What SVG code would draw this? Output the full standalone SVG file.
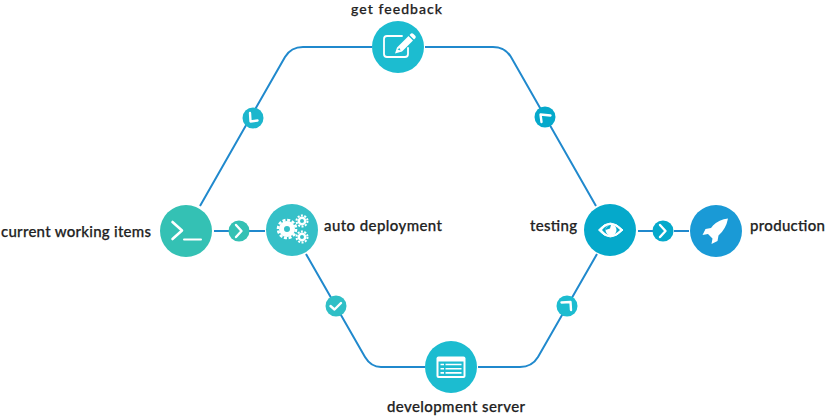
<svg xmlns="http://www.w3.org/2000/svg" width="826" height="416" viewBox="0 0 826 416">
<style>
.c{fill:none;stroke:#2089cd;stroke-width:2}
.i{fill:none;stroke:#fff;stroke-width:2.4;stroke-linecap:round;stroke-linejoin:round}
.f{fill:#fff}
text{font-family:"Lato","Open Sans",sans-serif;font-size:15px;font-weight:500;fill:#222;stroke:#222;stroke-width:.25}
</style>
<g id="connectors">
<path class="c" d="M200 206L285 57Q291 47 303 47H372"/>
<path class="c" d="M425 47H493Q505 47 511 57L596 206"/>
<path class="c" d="M306 254L365 357Q371 367 381 367H425"/>
<path class="c" d="M478 367H520Q532 367 538 357L597 254"/>
<path class="c" d="M214 231H229M249 231H265"/>
<path class="c" d="M638 231H653M674 231H689"/>
</g>
<g id="current-working-items">
<circle cx="186" cy="231" r="26" fill="#34c1b4"/>
<path class="i" d="M172.500 222L182 230.500L172.500 239" style="stroke-width:2.6"/><path class="i" d="M184 239.500H201" style="stroke-width:2"/>
<text x="1" y="237" textLength="150">current working items</text>
</g>
<g id="auto-deployment">
<circle cx="292" cy="230" r="26" fill="#35c0c8"/>
<circle cx="287" cy="229" r="5.500" fill="none" stroke="#fff" stroke-width="5"/>
<circle cx="287" cy="229" r="9" fill="none" stroke="#fff" stroke-width="2.600" stroke-dasharray="3 1.700"/>
<circle cx="302" cy="221" r="3.200" fill="none" stroke="#fff" stroke-width="2.400"/>
<circle cx="302" cy="221" r="5.500" fill="none" stroke="#fff" stroke-width="2" stroke-dasharray="2 1.450"/>
<circle cx="302" cy="237" r="3.200" fill="none" stroke="#fff" stroke-width="2.400"/>
<circle cx="302" cy="237" r="5.500" fill="none" stroke="#fff" stroke-width="2" stroke-dasharray="2 1.450"/>
<text x="324" y="231" textLength="118">auto deployment</text>
</g>
<g id="get-feedback">
<circle cx="398" cy="47" r="26" fill="#1cbcd0"/>
<path class="i" d="M408 48V54Q408 57 405 57H387Q384 57 384 54V39Q384 36 387 36H402" style="stroke-width:1.800"/>
<path class="f" d="M411 33.500Q412.500 33 413.500 34L415.500 36Q416 37 415.500 38L414 39.500L409.500 35ZM408.500 36L413 40.500L402 51.500L395 53.500L397 47.500Z"/>
<path d="M397.500 49.500L399.500 48L400.500 50.500Z" fill="#1cbcd0"/>
<text x="351" y="14" textLength="91" style="font-size:14px">get feedback</text>
</g>
<g id="development-server">
<circle cx="451" cy="367" r="26" fill="#1cbcd0"/>
<rect x="436.500" y="356.500" width="29" height="21.500" rx="2" class="f"/>
<rect x="438.500" y="361.500" width="25" height="14.500" fill="#1cbcd0"/>
<path d="M440.500 364.500H444M445.500 364.500H461.500M440.500 368.700H444M445.500 368.700H461.500M440.500 372.900H444M445.500 372.900H461.500" stroke="#fff" stroke-width="1.600" fill="none"/>
<text x="387" y="412" textLength="138">development server</text>
</g>
<g id="testing">
<circle cx="610" cy="230" r="26" fill="#05a9cb"/>
<path class="f" d="M598.500 230Q610 216 623 230Q610 244 598.500 230Z" stroke="#fff" stroke-width="1"/>
<path d="M602 230Q610 220 620 230Q610 240 602 230Z" fill="#05a9cb"/>
<circle cx="611" cy="230" r="5.500" class="f"/>
<path d="M605.500 230a5.500 5.500 0 0 1 5.500-5l-1 3.500z" fill="#05a9cb"/>
<text x="530" y="231" textLength="47">testing</text>
</g>
<g id="production">
<circle cx="716" cy="231" r="26" fill="#1a9ad6"/>
<path class="f" d="M728 218.500Q719 219.500 713 225.500L711 228L705.500 229L702.500 235L708 234L712.500 238.500L711.500 244L717.500 241L718.500 235.500Q726 229 728 218.500Z"/>
<text x="750" y="231" textLength="75">production</text>
</g>
<g id="step-left-top">
<circle cx="253" cy="118" r="10.500" fill="#1cb6cd"/>
<path class="i" d="M250 113L250.500 121.500L257.500 120.500"/>
</g>
<g id="step-right-top">
<circle cx="545" cy="117" r="10.500" fill="#05a9cb"/>
<path class="i" d="M541.500 122L540.500 114.500L550.500 115.500"/>
</g>
<g id="step-left-bottom">
<circle cx="336" cy="306" r="10.500" fill="#2fbfc6"/>
<path class="i" d="M330.500 306L334.500 309.500L341 303"/>
</g>
<g id="step-right-bottom">
<circle cx="567" cy="306" r="10.500" fill="#1cbcd0"/>
<path class="i" d="M561.500 302.500L570.500 302L571 310"/>
</g>
<g id="step-center-left">
<circle cx="239" cy="231" r="10.500" fill="#34c1b4"/>
<path class="i" d="M236 225L241.500 231L236 237"/>
</g>
<g id="step-center-right">
<circle cx="663" cy="231" r="10.500" fill="#05a9cb"/>
<path class="i" d="M660 225L665.500 231L660 237"/>
</g>
</svg>
